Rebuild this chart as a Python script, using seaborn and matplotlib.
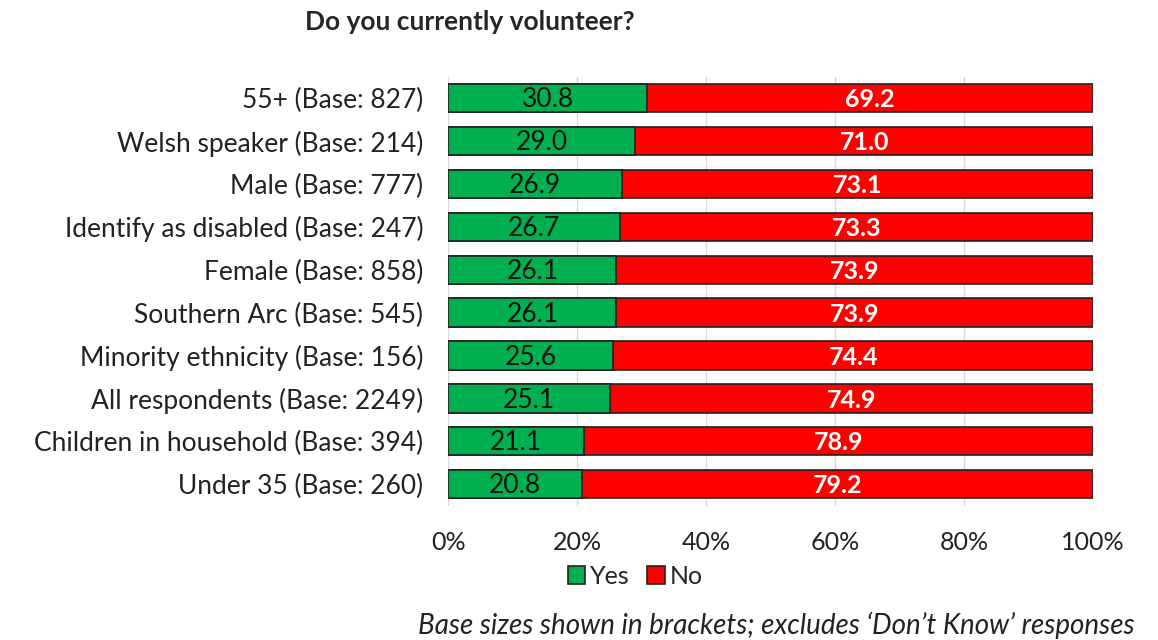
import pandas as pd
import matplotlib.pyplot as plt
import seaborn as sns

groups = ["55+ (Base: 827)", "Welsh speaker (Base: 214)", "Male (Base: 777)",
          "Identify as disabled (Base: 247)", "Female (Base: 858)",
          "Southern Arc (Base: 545)", "Minority ethnicity (Base: 156)",
          "All respondents (Base: 2249)", "Children in household (Base: 394)",
          "Under 35 (Base: 260)"]
yes = [30.8, 29.0, 26.9, 26.7, 26.1, 26.1, 25.6, 25.1, 21.1, 20.8]
no = [69.2, 71.0, 73.1, 73.3, 73.9, 73.9, 74.4, 74.9, 78.9, 79.2]

df = pd.DataFrame({"group": groups, "yes": yes, "no": no})
df["total"] = df["yes"] + df["no"]

sns.set_style("white")
plt.rcParams['font.family'] = ['Lato', 'DejaVu Sans']

fig = plt.figure(figsize=(11.58, 6.4), dpi=100)
ax = fig.add_axes([0.387, 0.21, 0.557, 0.67])

# stacked: red full bar underneath, green on top
sns.barplot(data=df, y="group", x="total", color="#ff0000", orient="h", saturation=1,
            width=0.66, edgecolor="#222222", linewidth=1.2, ax=ax, label="No")
sns.barplot(data=df, y="group", x="yes", color="#00b050", orient="h", saturation=1,
            width=0.66, edgecolor="#222222", linewidth=1.2, ax=ax, label="Yes")

for i, (y_, n_) in enumerate(zip(yes, no)):
    ax.text(y_ / 2, i + 0.04, f"{y_:.1f}", ha="center", va="center", fontsize=19, color="#111111")
    ax.text(y_ + n_ / 2, i + 0.04, f"{n_:.1f}", ha="center", va="center", fontsize=18,
            color="white", fontweight="bold")

ax.set_xlim(0, 100)
ax.set_ylim(9.5, -0.5)
ax.set_xticks([0, 20, 40, 60, 80, 100])
ax.set_xticklabels(["0%", "20%", "40%", "60%", "80%", "100%"], fontsize=18, color="#222222")
ax.tick_params(axis="y", labelsize=19, labelcolor="#222222", length=0, pad=18)
ax.tick_params(axis="x", length=0, pad=18)
ax.xaxis.grid(True, color="#d9d9d9", linewidth=1)
ax.set_axisbelow(True)
ax.set_xlabel("")
ax.set_ylabel("")
for s in ax.spines.values():
    s.set_visible(False)

handles, labels = ax.get_legend_handles_labels()
order = [labels.index("Yes"), labels.index("No")]
ax.legend([handles[k] for k in order], ["Yes", "No"], loc="center",
          bbox_to_anchor=(0.29, -0.165), ncol=2, frameon=False, fontsize=18,
          handlelength=0.7, handleheight=0.7, handletextpad=0.2, columnspacing=0.7)

fig.text(0.406, 0.965, "Do you currently volunteer?", ha="center", va="center",
         fontsize=19, fontweight="bold")
fig.text(0.98, 0.023, "Base sizes shown in brackets; excludes \u2018Don\u2019t Know\u2019 responses",
         ha="right", va="center", fontsize=20, style="italic", color="#222222")

fig.savefig("out.png", dpi=100)
